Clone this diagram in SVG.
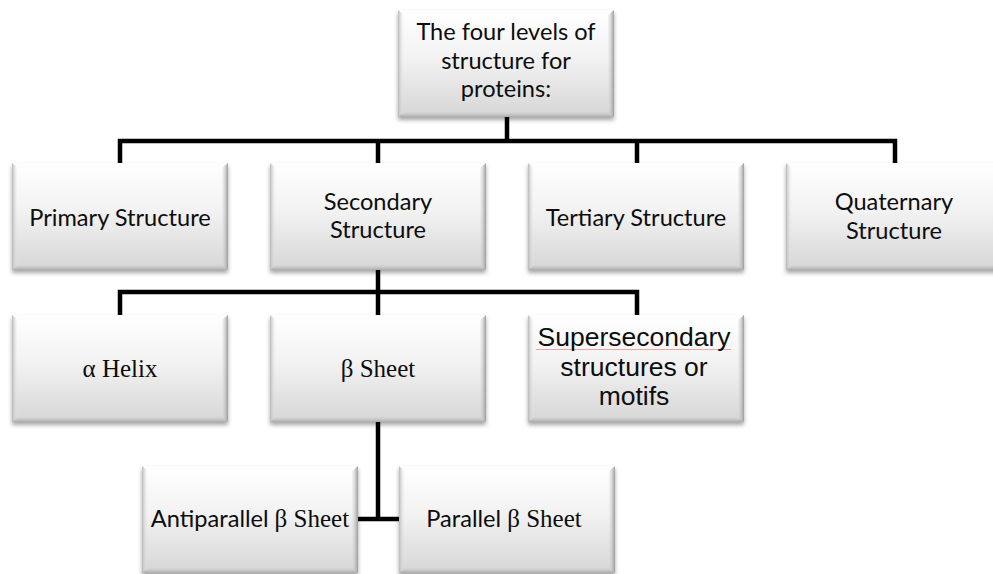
<svg xmlns="http://www.w3.org/2000/svg" xmlns:xlink="http://www.w3.org/1999/xlink" width="993" height="574" viewBox="0 0 993 574">
  <style>
    .lbl { font-family: Lato, "Noto Sans", "Liberation Sans", sans-serif; font-size: 23.6px; fill: #0d0d0d; text-anchor: middle; }
    .ser { font-family: "Liberation Serif", "DejaVu Serif", serif; font-size: 25px; fill: #0d0d0d; text-anchor: middle; }
    .ari { font-family: "Liberation Sans", Arial, sans-serif; font-size: 26.5px; fill: #0d0d0d; text-anchor: middle; }
    .serspan { font-family: "Liberation Serif", "DejaVu Serif", serif; font-size: 25px; }
    .wire { stroke: #000; stroke-width: 4.5; fill: none; stroke-linecap: butt; stroke-linejoin: miter; }
  </style>
  <defs>
    <linearGradient id="face" x1="0" y1="0" x2="0" y2="1">
      <stop offset="0" stop-color="#ffffff"/>
      <stop offset="0.45" stop-color="#f2f2f2"/>
      <stop offset="1" stop-color="#d6d6d6"/>
    </linearGradient>
    <linearGradient id="bevL" x1="0" y1="0" x2="1" y2="0">
      <stop offset="0" stop-color="#b9b9b9"/>
      <stop offset="1" stop-color="#ececec" stop-opacity="0"/>
    </linearGradient>
    <linearGradient id="bevR" x1="1" y1="0" x2="0" y2="0">
      <stop offset="0" stop-color="#9c9c9c"/>
      <stop offset="1" stop-color="#d8d8d8" stop-opacity="0.2"/>
    </linearGradient>
    <linearGradient id="bevB" x1="0" y1="1" x2="0" y2="0">
      <stop offset="0" stop-color="#a9a9a9"/>
      <stop offset="1" stop-color="#d0d0d0" stop-opacity="0.3"/>
    </linearGradient>
    <filter id="shade" x="-10%" y="-10%" width="125%" height="130%">
      <feDropShadow dx="0" dy="3" stdDeviation="2" flood-color="#000" flood-opacity="0.35"/>
    </filter>
    <!-- bevelled grey card used by every node -->
    <g id="card">
      <rect x="0" y="0" width="216" height="107" fill="url(#face)" filter="url(#shade)"/>
      <polygon points="0,0 216,0 210,5 6,5" fill="#fdfdfd"/>
      <polygon points="0,0 6,5 6,102 0,107" fill="url(#bevL)"/>
      <polygon points="216,0 216,107 210,102 210,5" fill="url(#bevR)"/>
      <polygon points="0,107 216,107 210,102 6,102" fill="url(#bevB)"/>
    </g>
  </defs>

  <rect width="993" height="574" fill="#ffffff"/>

  <!-- tree connectors -->
  <g id="connectors">
    <path class="wire" d="M507,117 V141"/>
    <path class="wire" d="M120,163 V141 H895 V163"/>
    <path class="wire" d="M378,141 V163"/>
    <path class="wire" d="M637,141 V163"/>
    <path class="wire" d="M378,270 V292"/>
    <path class="wire" d="M120,315 V292 H637 V315"/>
    <path class="wire" d="M378,292 V315"/>
    <path class="wire" d="M378,422 V519"/>
    <path class="wire" d="M357,519 H399"/>
  </g>

  <g id="root" transform="translate(398,10)">
    <use xlink:href="#card"/>
    <text class="lbl" x="108" y="30">The four levels of</text>
    <text class="lbl" x="108" y="58.5">structure for</text>
    <text class="lbl" x="108" y="87">proteins:</text>
  </g>

  <g id="primary" transform="translate(12,163)">
    <use xlink:href="#card"/>
    <text class="lbl" x="108" y="63">Primary Structure</text>
  </g>

  <g id="secondary" transform="translate(270,163)">
    <use xlink:href="#card"/>
    <text class="lbl" x="108" y="46.5">Secondary</text>
    <text class="lbl" x="108" y="75">Structure</text>
  </g>

  <g id="tertiary" transform="translate(528,163)">
    <use xlink:href="#card"/>
    <text class="lbl" x="108" y="63">Tertiary Structure</text>
  </g>

  <g id="quaternary" transform="translate(786,163)">
    <use xlink:href="#card"/>
    <text class="lbl" x="108" y="47">Quaternary</text>
    <text class="lbl" x="108" y="75.5">Structure</text>
  </g>

  <g id="alpha-helix" transform="translate(12,315)">
    <use xlink:href="#card"/>
    <text class="ser" x="108" y="62">α Helix</text>
  </g>

  <g id="beta-sheet" transform="translate(270,315)">
    <use xlink:href="#card"/>
    <text class="ser" x="108" y="62">β Sheet</text>
  </g>

  <g id="supersecondary" transform="translate(528,315)">
    <use xlink:href="#card"/>
    <!-- faint spell-check underline below the first word -->
    <line x1="8" y1="34.5" x2="203" y2="34.5" stroke="#f3a3a3" stroke-width="1"/>
    <text class="ari" x="106" y="31">Supersecondary</text>
    <text class="ari" x="106" y="61">structures or</text>
    <text class="ari" x="106" y="90">motifs</text>
  </g>

  <g id="antiparallel" transform="translate(142,466)">
    <use xlink:href="#card"/>
    <text class="lbl" x="108" y="61">Antiparallel <tspan class="serspan">β Sheet</tspan></text>
  </g>

  <g id="parallel" transform="translate(399,466)">
    <use xlink:href="#card"/>
    <text class="lbl" x="105" y="61">Parallel <tspan class="serspan">β Sheet</tspan></text>
  </g>
</svg>
